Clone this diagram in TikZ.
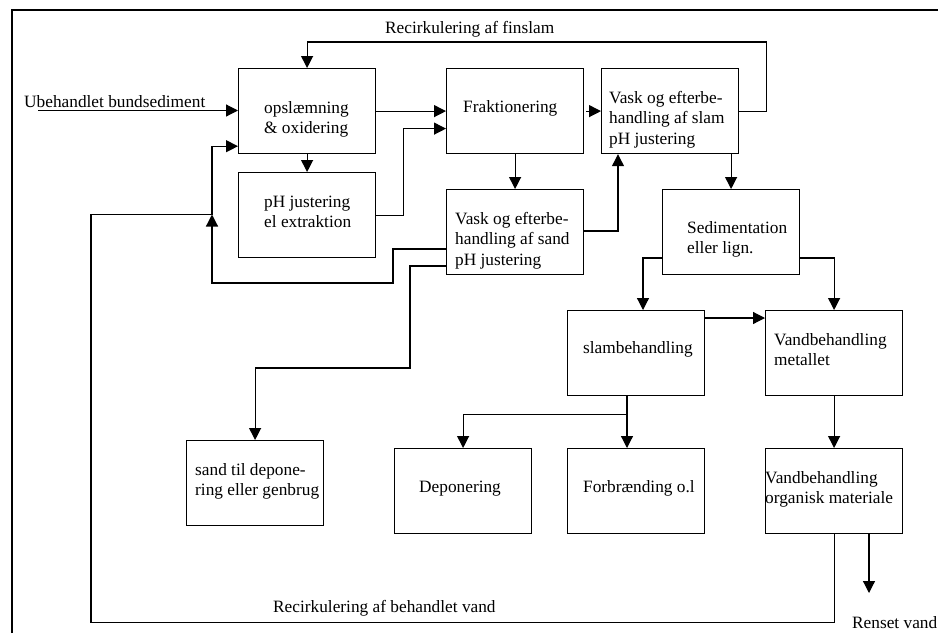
\documentclass[tikz,border=0pt]{standalone}
\usepackage{fontspec}
\setmainfont{Liberation Serif}
\usetikzlibrary{arrows.meta,calc}
\begin{document}
\begin{tikzpicture}[x=1pt,y=-1pt,
  box/.style={draw, line width=1.2pt, minimum width=137pt, minimum height=85pt, inner sep=0pt, anchor=north west},
  txt/.style={anchor=north west, inner sep=0pt, align=left, font=\fontsize{17.3}{20.5}\selectfont},
  arr/.style={line width=1.2pt, -{Triangle[length=12pt,width=12pt]}},
  ln/.style={line width=1.2pt}]
\useasboundingbox (0,0) rectangle (938,633);
% frame
\draw[line width=2pt] (12,633) -- (12,10) -- (938,10);
% boxes
\node[box] (op)  at (238,68)  {};
\node[box] (ph)  at (238,172) {};
\node[box] (fr)  at (446,68)  {};
\node[box] (vsl) at (601,68)  {};
\node[box] (vsa) at (446,189) {};
\node[box] (sed) at (662,189) {};
\node[box] (slb) at (567,310) {};
\node[box] (vme) at (765,310) {};
\node[box] (for) at (567,448) {};
\node[box] (vor) at (765,448) {};
\node[box] (dep) at (394,448) {};
\node[box] (sdt) at (186,440) {};
% texts (first baseline - 14.35)
\node[txt] (tIn)  at (24,92.65)   {\strut Ubehandlet bundsediment};
\node[txt] (tFin) at (385,18.65)  {\strut Recirkulering af finslam};
\node[txt] (tOp)  at (264,98.65)  {\strut opslæmning\\\strut \& oxidering};
\node[txt] (tPh)  at (264,192.65) {\strut pH justering\\\strut el extraktion};
\node[txt] (tFr)  at (463,97.65)  {\strut Fraktionering};
\node[txt] (tVsl) at (609,88.65)  {\strut Vask og efterbe-\\\strut handling af slam\\\strut pH justering};
\node[txt] (tVsa) at (455,209.65) {\strut Vask og efterbe-\\\strut handling af sand\\\strut pH justering};
\node[txt] (tSed) at (687,218.65) {\strut Sedimentation\\\strut eller lign.};
\node[txt] (tSlb) at (583,338.65) {\strut slambehandling};
\node[txt] (tVme) at (774,330.65) {\strut Vandbehandling\\\strut metallet};
\node[txt] (tFor) at (583,477.65) {\strut Forbrænding o.l};
\node[txt] (tVor) at (765,468.65) {\strut Vandbehandling\\\strut organisk materiale};
\node[txt] (tDep) at (419,477.65) {\strut Deponering};
\node[txt] (tSdt) at (195,460.65) {\strut sand til depone-\\\strut ring eller genbrug};
\node[txt] (tBeh) at (273,597.65) {\strut Recirkulering af behandlet vand};
\node[txt] (tRen) at (852,613.65) {\strut Renset vand};
% coordinates
\coordinate (in) at (38,110.5);
\coordinate (jn) at (212,214.5);
\coordinate (out) at (869,593);
% connectors
\draw[arr] (in) -- (in -| op.west);
\draw[arr] (op.east) -- (fr.west);
\draw[arr] (op.south) -- (ph.north);
\draw[arr] (ph.east) -- ++(27,0) |- ($(fr.west)+(0,17.5)$);
\draw[arr] (vsl.east) -- ++(27,0) |- ($(op.north)+(0,-26)$) -- (op.north);
\draw[arr] ($(fr.east)+(2,0)$) -- (vsl.west);
\draw[arr] (fr.south) -- (vsa.north);
\draw[arr] ($(vsa.north east)+(0,42)$) -| ($(vsl.south west)+(17,0)$);
\draw[arr] (sed.north |- vsl.south) -- (sed.north);
\draw[arr] ($(vsa.north west)+(0,60)$) -- ++(-53,0) |- ($(jn)+(0,68.5)$) -- (jn);
\draw[arr] (jn) |- ($(op.south west)+(0,-8)$);
\draw[ln] (vor.south) -- ++(0,88) -| ($(jn)+(-121,0)$) -- (jn);
\draw[arr] ($(vsa.north west)+(0,77)$) -- ++(-36,0) |- ($(sdt.north)+(0,-72)$) -- (sdt.north);
\draw[arr] ($(sed.north west)+(0,69)$) -| ($(slb.north west)+(76,0)$);
\draw[arr] ($(sed.north east)+(0,69)$) -| (vme.north);
\draw[arr] ($(slb.north east)+(0,8)$) -- ($(vme.north west)+(0,8)$);
\draw[arr] ($(slb.south west)+(60,0)$) -- ($(for.north west)+(60,0)$);
\draw[arr] ($(slb.south west)+(60,18)$) -| (dep.north);
\draw[arr] (vme.south) -- (vor.north);
\draw[arr] (vor.south -| out) -- (out);
\end{tikzpicture}
\end{document}
